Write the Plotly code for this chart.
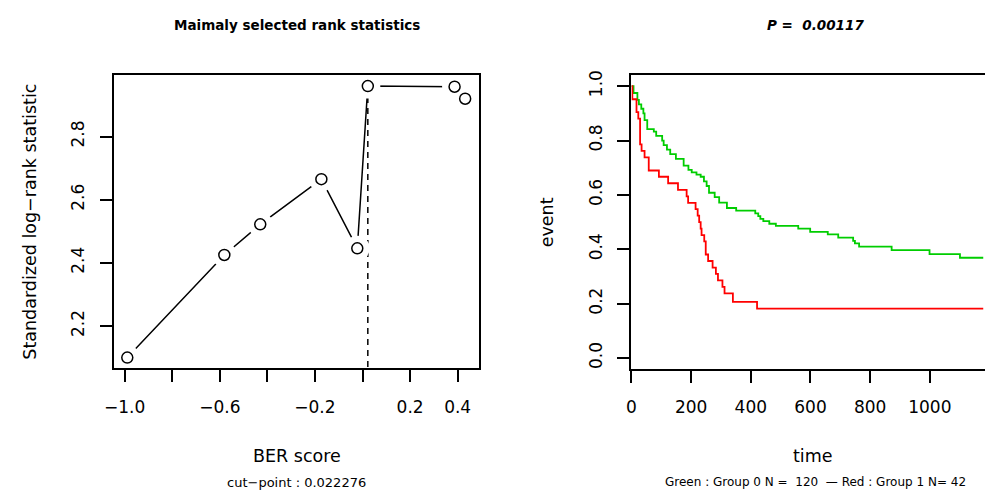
import plotly.graph_objects as go

# ---------------- data ----------------
# Left panel: maximally selected rank statistics
ber_score = [-0.989, -0.581, -0.430, -0.173, -0.022, 0.022276, 0.387, 0.4315]
std_logrank = [2.100, 2.425, 2.522, 2.665, 2.446, 2.960, 2.958, 2.920]
cut_point = 0.022276
cut_stat = 2.960
left_xticks = [-1.0, -0.8, -0.6, -0.4, -0.2, 0.0, 0.2, 0.4]
left_xtext = ["\u22121.0", "", "\u22120.6", "", "\u22120.2", "", "0.2", "0.4"]
left_yticks = [2.2, 2.4, 2.6, 2.8]
left_ytext = ["2.2", "2.4", "2.6", "2.8"]

# Right panel: Kaplan-Meier curves
green_time = [0, 7, 20, 25, 33, 40, 44, 53, 75, 83, 103, 108, 119, 130, 149, 175,
              191, 202, 218, 232, 243, 252, 260, 279, 294, 320, 351, 415, 425, 432,
              442, 462, 484, 559, 599, 658, 693, 743, 749, 763, 872, 999, 1101, 1179]
green_surv = [1.0, 0.975, 0.95, 0.933, 0.917, 0.9, 0.875, 0.842, 0.833, 0.817, 0.8,
              0.783, 0.767, 0.75, 0.733, 0.708, 0.692, 0.683, 0.675, 0.667, 0.650,
              0.633, 0.608, 0.592, 0.572, 0.552, 0.542, 0.532, 0.522, 0.512, 0.504,
              0.494, 0.486, 0.476, 0.464, 0.455, 0.443, 0.431, 0.422, 0.410, 0.397,
              0.382, 0.369, 0.369]
red_time = [0, 3, 17, 23, 29, 34, 44, 58, 92, 123, 156, 185, 190, 215, 222, 227, 232,
            235, 244, 249, 257, 272, 283, 290, 305, 312, 340, 421, 1179]
red_surv = [1.0, 0.952, 0.905, 0.881, 0.786, 0.762, 0.738, 0.690, 0.667, 0.643, 0.619,
            0.595, 0.571, 0.548, 0.524, 0.500, 0.476, 0.452, 0.429, 0.381, 0.357,
            0.333, 0.310, 0.286, 0.262, 0.238, 0.207, 0.182, 0.182]
right_xticks = [0, 200, 400, 600, 800, 1000, 1200]
right_xtext = ["0", "200", "400", "600", "800", "1000", ""]
right_yticks = [0.0, 0.2, 0.4, 0.6, 0.8, 1.0]
right_ytext = ["0.0", "0.2", "0.4", "0.6", "0.8", "1.0"]

NB = "\u00a0"
left_title = "<b>Maimaly selected rank statistics</b>"
right_title = "<b><i>P =" + NB + " 0.00117</i></b>"
left_xlabel = "BER score"
left_sub = "cut\u2212point : 0.022276"
left_ylabel = "Standardized log\u2212rank statistic"
right_xlabel = "time"
right_ylabel = "event"
right_sub = "Green : Group 0 N =" + NB + " 120" + NB + " \u2014 Red : Group 1 N= 42"

# ---------------- figure ----------------
# the page body has an 8px margin; figure pixel = page pixel - OFF
OFF = 8
W, H = 993 - OFF, 490 - OFF
FONT = "DejaVu Sans, Liberation Sans, Arial, sans-serif"


def px(xp):
    return (xp - OFF) / W


def py(yp):
    return 1 - (yp - OFF) / H


fig = go.Figure()

# left panel traces
fig.add_trace(go.Scatter(x=ber_score, y=std_logrank, mode="lines",
                         line=dict(color="black", width=1.5),
                         xaxis="x", yaxis="y", showlegend=False, hoverinfo="skip"))
fig.add_trace(go.Scatter(x=[cut_point, cut_point], y=[cut_stat, 2.0], mode="lines",
                         line=dict(color="black", width=1.5, dash="6px,5px"),
                         xaxis="x", yaxis="y", showlegend=False, hoverinfo="skip"))
fig.add_trace(go.Scatter(x=ber_score, y=std_logrank, mode="markers",
                         marker=dict(size=25, color="white", line=dict(width=0)),
                         xaxis="x", yaxis="y", showlegend=False, hoverinfo="skip"))
fig.add_trace(go.Scatter(x=ber_score, y=std_logrank, mode="markers",
                         marker=dict(size=11, color="white", symbol="circle",
                                     line=dict(color="black", width=1.5)),
                         xaxis="x", yaxis="y", showlegend=False))

# right panel traces
fig.add_trace(go.Scatter(x=green_time, y=green_surv, mode="lines", line_shape="hv",
                         line=dict(color="#00CD00", width=1.8),
                         xaxis="x2", yaxis="y2", showlegend=False))
fig.add_trace(go.Scatter(x=red_time, y=red_surv, mode="lines", line_shape="hv",
                         line=dict(color="#FF0000", width=1.8),
                         xaxis="x2", yaxis="y2", showlegend=False))

axis_common = dict(showgrid=False, zeroline=False, showline=True, linecolor="black",
                   linewidth=2, mirror=True, ticks="outside", ticklen=12, tickwidth=1.5,
                   tickcolor="black", tickfont=dict(size=17, color="black", family=FONT),
                   tickmode="array")

fig.update_layout(
    width=W, height=H,
    margin=dict(l=0, r=0, t=0, b=0),
    paper_bgcolor="white", plot_bgcolor="white",
    font=dict(family=FONT, color="black"),
    xaxis=dict(domain=[px(105), px(475)], range=[-1.0456, 0.491],
               tickvals=left_xticks, ticktext=left_xtext, anchor="y",
               ticklabelstandoff=10, **axis_common),
    yaxis=dict(domain=[py(367), py(71)], range=[2.066, 2.994],
               tickvals=left_yticks, ticktext=left_ytext, anchor="x",
               tickangle=-90, ticklabelstandoff=9, **axis_common),
    xaxis2=dict(domain=[px(629), 1.0], range=[0, 1205],
                tickvals=right_xticks, ticktext=right_xtext, anchor="y2",
                ticklabelstandoff=10, **axis_common),
    yaxis2=dict(domain=[py(367.3), py(70.7)], range=[-0.0386, 1.041],
                tickvals=right_yticks, ticktext=right_ytext, anchor="x2",
                tickangle=-90, ticklabelstandoff=9, **axis_common),
)


def ann(text, x, y, size, angle=0):
    fig.add_annotation(text=text, x=px(x), y=py(y), xref="paper", yref="paper",
                       showarrow=False, xanchor="center", yanchor="middle",
                       textangle=angle, font=dict(size=size, family=FONT, color="black"))


ann(left_title, 290, 20, 13.5)
ann(right_title, 815, 20, 13.5)
ann(left_xlabel, 290, 456, 17.5)
ann(left_sub, 290, 482, 13)
ann(left_ylabel, 20, 219, 17.5, -90)
ann(right_xlabel, 813, 456, 17.5)
ann(right_sub, 815, 482, 12)
ann(right_ylabel, 543, 219, 17.5, -90)

fig.write_html("out.html")
